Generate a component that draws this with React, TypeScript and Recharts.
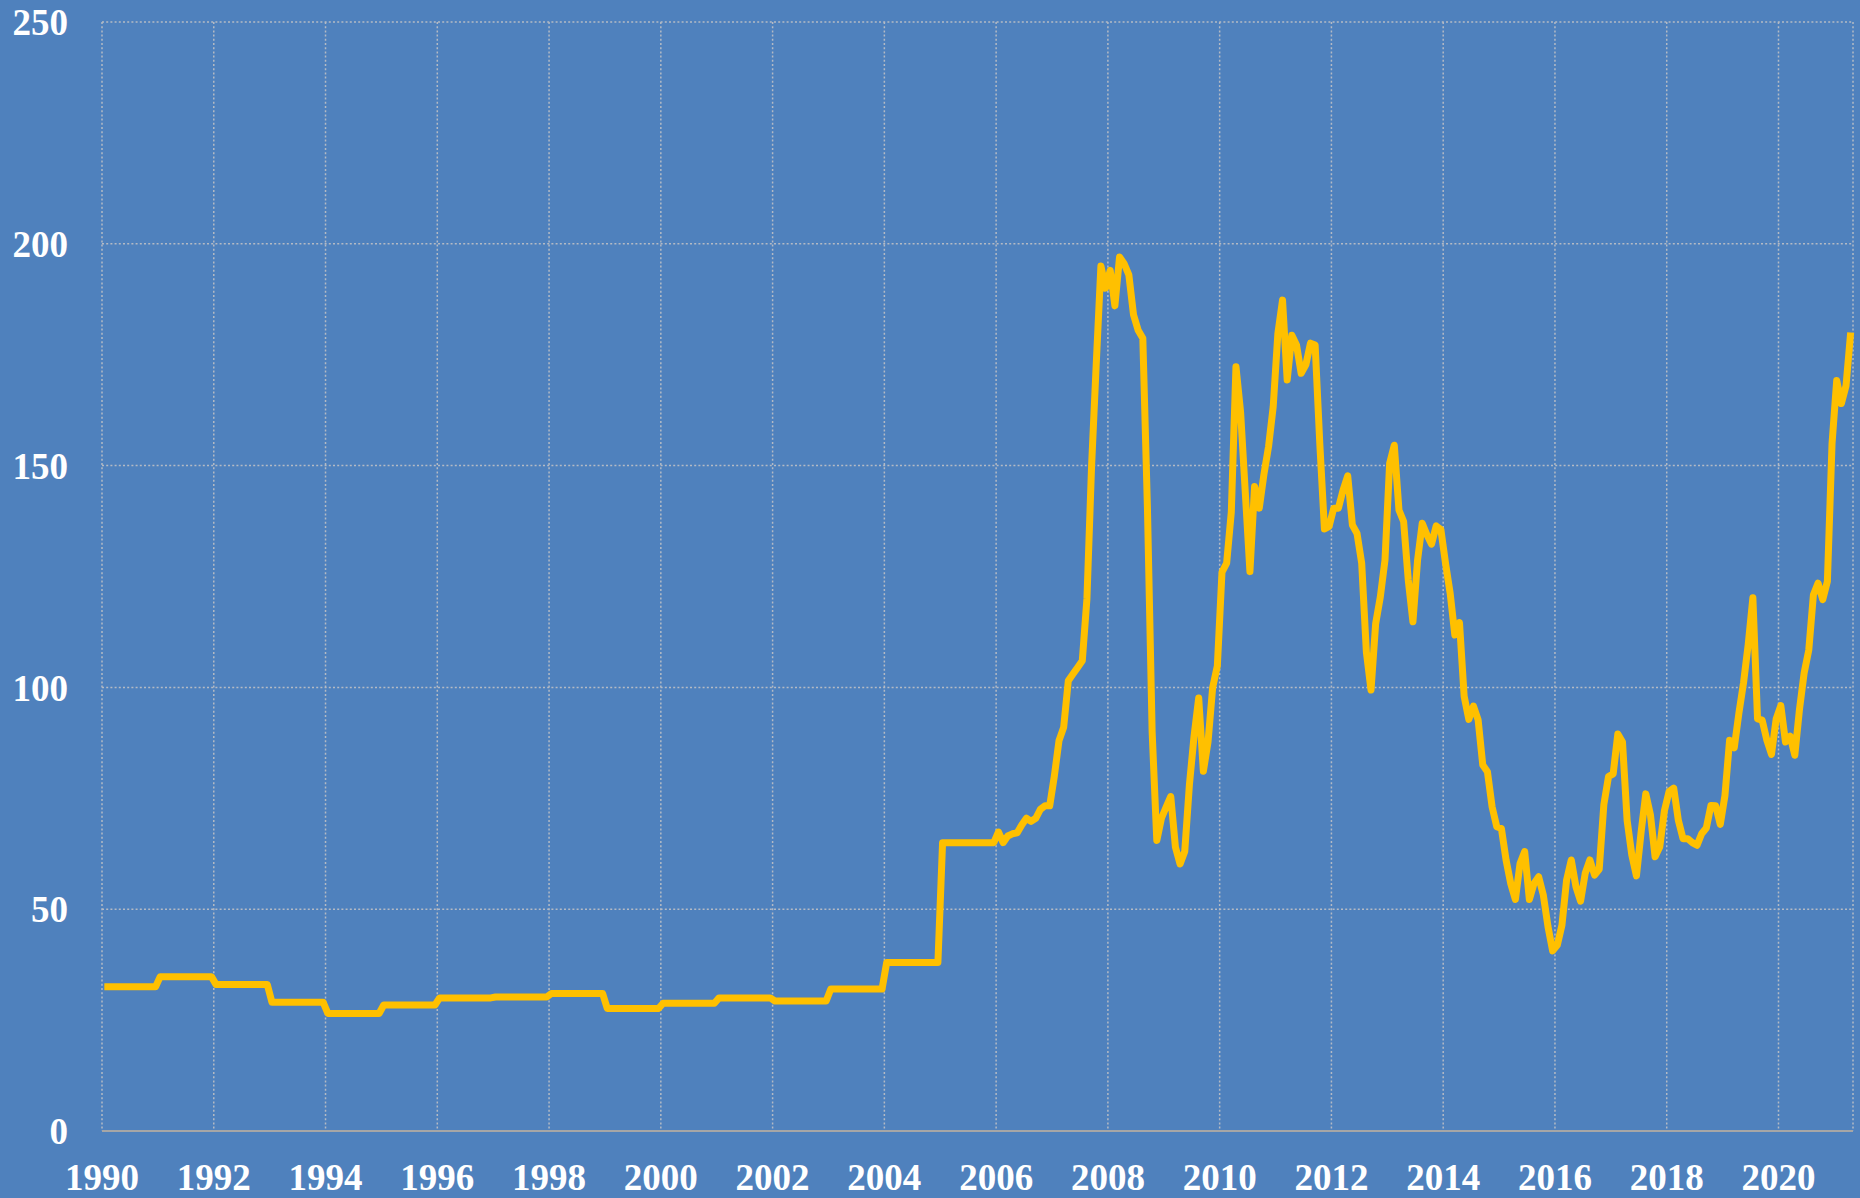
import React from 'react';
import { LineChart, Line, XAxis, YAxis, CartesianGrid } from 'recharts';

// yearly contract prices, held flat through each year (1990-2005)
const annualYears = [1990, 1991, 1992, 1993, 1994, 1995, 1996, 1997, 1998, 1999, 2000, 2001, 2002, 2003, 2004, 2005];
const annualPrices = [32.5, 34.8, 33.0, 29.0, 26.5, 28.4, 30.0, 30.2, 31.0, 27.6, 28.8, 30.0, 29.3, 32.0, 38.0, 65.0];

// monthly prices, Jan 2006 .. Apr 2021
const monthlyPrices = [
  67.4, 65, 66.5, 67, 67.2, 69, 70.5, 69.8, 70.5, 72.5, 73.3, 73.3, // 2006
  80, 88, 91, 101.5, 103, 104.5, 106, 120, 150, 173, 195, 190, // 2007
  194, 186, 197, 195.5, 193, 184, 180.5, 178.7, 140, 90, 65.5, 70.5, // 2008
  73, 75.4, 64, 60.2, 63, 78, 89, 97.6, 81.1, 87.7, 100, 104.8, // 2009
  126, 128, 139.5, 172.3, 162, 144, 126.1, 145.3, 140.4, 148, 154.3, 163.3, // 2010
  179.8, 187.3, 169.3, 179.4, 177.2, 170.8, 172.7, 177.6, 177.2, 155, 135.7, 136.3, // 2011
  140.4, 140.4, 144.5, 147.7, 136.6, 134.7, 128, 108, 99.4, 114.4, 120.4, 128.7, // 2012
  150.5, 154.6, 140, 137.4, 124.2, 114.8, 128.7, 137, 134.4, 132.3, 136.4, 135.6, // 2013
  128, 121.2, 111.8, 114.6, 98, 92.8, 95.8, 92.7, 82.5, 81, 73.1, 68.6, // 2014
  68.2, 61.1, 55.8, 52.2, 60.3, 63, 52.2, 55.8, 57.3, 53.2, 46.1, 40.6, // 2015
  41.9, 46.4, 56.6, 61.1, 55.1, 51.8, 58.1, 61.1, 57.7, 59, 73.6, 79.9, // 2016
  80.5, 89.5, 87.7, 70, 62.2, 57.5, 67.4, 76, 71.3, 61.8, 64, 72.2, // 2017
  76.5, 77.3, 70, 65.9, 65.9, 65, 64.4, 67, 68.3, 73.4, 73.3, 69.1, // 2018
  75.6, 88.1, 86.4, 94.2, 101.1, 109.7, 120.2, 92.9, 92.6, 88.1, 84.9, 92.9, // 2019
  95.9, 87.7, 89, 84.7, 95, 103.2, 108.4, 120.9, 123.5, 119.8, 123.9, 155, // 2020
  169.2, 164, 168, 180, // 2021
];

const yearTicks = [1990, 1992, 1994, 1996, 1998, 2000, 2002, 2004, 2006, 2008, 2010, 2012, 2014, 2016, 2018, 2020];
const valueTicks = [0, 50, 100, 150, 200, 250];

const monthly: number[] = [];
annualYears.forEach((_, i) => {
  for (let m = 0; m < 12; m++) monthly.push(annualPrices[i]);
});
monthlyPrices.forEach((v) => monthly.push(v));

// each month sits in the middle of its slot on the axis
const data = monthly.map((price, i) => ({ idx: i + 0.5, price }));
const monthTicks = yearTicks.map((y) => (y - 1990) * 12);

const tickStyle = { fill: '#FFFFFF', fontSize: 37, fontWeight: 'bold', fontFamily: '"Liberation Serif", "Times New Roman", serif' };

export default function App() {
  return (
    <div style={{ position: 'fixed', left: 0, top: 0, width: 1860, height: 1198, background: '#4F81BD' }}>
      <LineChart width={1860} height={1198} data={data} margin={{ top: 22, right: 7, bottom: 0, left: 0 }}>
        <CartesianGrid stroke="#B4BAC4" strokeWidth={1.5} strokeDasharray="2 2.2" />
        <XAxis
          dataKey="idx"
          type="number"
          domain={[0, monthly.length]}
          ticks={monthTicks}
          interval={0}
          tickFormatter={(v: number) => String(1990 + v / 12)}
          height={67}
          tick={tickStyle}
          tickLine={false}
          tickSize={6}
          tickMargin={27}
          axisLine={{ stroke: '#A6A6A6', strokeWidth: 2 }}
        />
        <YAxis
          type="number"
          domain={[0, 250]}
          ticks={valueTicks}
          interval={0}
          width={102}
          tick={tickStyle}
          tickLine={false}
          tickSize={6}
          tickMargin={28}
          axisLine={false}
        />
        <Line
          type="linear"
          dataKey="price"
          stroke="#FFC000"
          strokeWidth={7}
          strokeLinejoin="round"
          dot={false}
          activeDot={false}
          isAnimationActive={false}
        />
      </LineChart>
    </div>
  );
}
